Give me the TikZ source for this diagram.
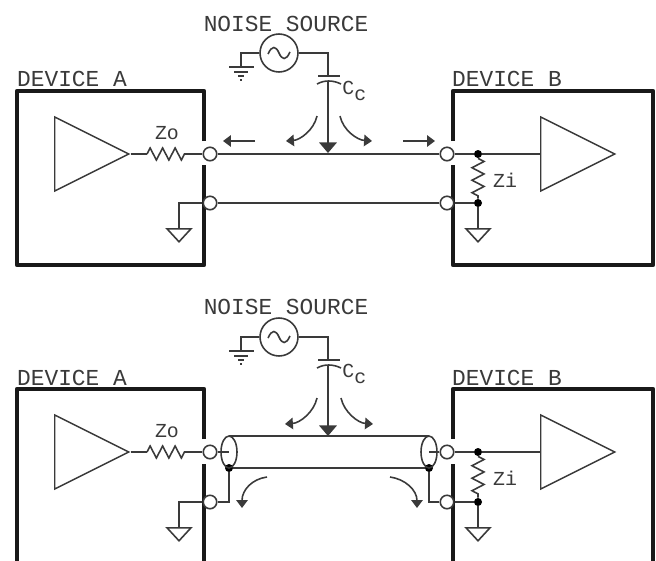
\documentclass[tikz,border=0pt]{standalone}
\usepackage{fontspec}
\setmonofont{Liberation Mono}
\usetikzlibrary{arrows.meta,decorations.pathmorphing,shapes,shapes.geometric,positioning,calc}
\definecolor{wirecol}{HTML}{3A3A3A}
\tikzset{
  wire/.style={draw=wirecol, line width=0.9pt},
  devbox/.style={draw=black!90, line width=2.4pt, line join=round},
  term/.style={circle, draw=wirecol, line width=0.9pt, fill=white, minimum size=0.27cm, inner sep=0pt},
  joint/.style={circle, fill=black, minimum size=0.16cm, inner sep=0pt},
  noise/.style={circle, draw=wirecol, line width=0.9pt, fill=white, minimum size=0.76cm, inner sep=0pt},
  amp/.style={isosceles triangle, isosceles triangle stretches, shape border rotate=0, draw=wirecol, line width=0.8pt, minimum width=1.48cm, minimum height=1.48cm, inner sep=0pt, anchor=lower side},
  gnd/.style={isosceles triangle, isosceles triangle stretches, shape border rotate=-90, draw=wirecol, line width=0.9pt, minimum width=0.48cm, minimum height=0.26cm, inner sep=0pt, anchor=lower side},
  resistor/.style={wire, decorate, decoration={zigzag, segment length=0.25cm, amplitude=0.12cm}},
  flow/.style={wire, -{Triangle[length=4.5pt,width=6.5pt]}},
  hit/.style={wire, -{Triangle[length=6pt,width=10pt]}},
  devlabel/.style={font=\ttfamily\fontsize{13}{13}\selectfont, text=wirecol, inner sep=0pt},
  partlabel/.style={font=\ttfamily\fontsize{11.3}{11.3}\selectfont, text=wirecol, inner sep=0pt}
}
\begin{document}
\begin{tikzpicture}[x=0.02cm, y=-0.02cm]
\useasboundingbox (0,0) rectangle (656,561);
\draw[devbox] (204,141) -- (204,91) -- (17,91) -- (17,265) -- (204,265) -- (204,165);
\draw[devbox] (453,141) -- (453,91) -- (653,91) -- (653,265) -- (453,265) -- (453,165);
\node[devlabel] (labelNoiseT) at (286,24) {NOISE SOURCE};
\node[devlabel] (labelAT) at (72,79) {DEVICE A};
\node[devlabel] (labelBT) at (507,79) {DEVICE B};
\node[amp] (ampAT) at (54,154) {};
\node[amp] (ampBT) at (540,154) {};
\node[term] (termAsT) at (210,154) {};
\node[term] (termAgT) at (210,203) {};
\node[term] (termBsT) at (447,154) {};
\node[term] (termBgT) at (447,203) {};
\node[joint] (jointSigT) at (478,154) {};
\node[joint] (jointGndT) at (478,203) {};
\node[gnd] (gndAT) at (179,228) {};
\node[gnd] (gndBT) at (478,228) {};
\node[noise] (noiseT) at (279,53) {};
\coordinate (hitT) at (328,153);
\coordinate (zoLT) at (147,154);
\coordinate (zoRT) at (185,154);
\coordinate (capAT) at (328,76);
\coordinate (capBT) at (328,81);
\coordinate (earthT) at (241,67);
\draw[wire] (ampAT.apex) -- (zoLT);
\draw[resistor] (zoLT) -- (zoRT);
\draw[wire] (zoRT) -- (termAsT);
\draw[wire] (termAsT) -- (termBsT);
\draw[wire] (termAgT) -- (termBgT);
\draw[wire] (termBsT) -- (jointSigT) -- (ampBT.lower side);
\draw[wire] (termBgT) -- (jointGndT) -- (gndBT.lower side);
\draw[resistor] (jointSigT) -- (jointGndT);
\draw[wire] (termAgT) -| (gndAT.lower side);
\draw[wire] (noiseT) -| (capAT);
\draw[wire] (noiseT) -| (earthT);
\draw[hit] (capBT) -- (hitT);
\draw[wire] (318,76) -- (340,76);
\draw[wire] (317,84) .. controls (324,80) and (333,80) .. (341,84);
\draw[wire] (229,67) -- (254,67);
\draw[wire] (234,72) -- (248,72);
\draw[wire] (238,76) -- (244,76);
\draw[wire] (240,80) -- (242,80);
\draw[wire] (268,54) .. controls (272,45) and (276,46) .. (279,53) .. controls (282,60) and (286,61) .. (290,52);
\draw[flow] (255,141) -- (223,141);
\draw[flow] (403,141) -- (435,141);
\draw[flow] (317,116) .. controls (314,130) and (300,140) .. (286,141);
\draw[flow] (340,116) .. controls (343,130) and (357,140) .. (372,141);
\node[partlabel] (labelZoT) at (167,133) {Zo};
\node[partlabel] (labelZiT) at (505,180) {Zi};
\node[partlabel, anchor=west] (labelCcT) at (342,91) {C\raisebox{-3.5pt}{c}};

\draw[devbox] (204,439) -- (204,389) -- (17,389) -- (17,561);
\draw[devbox] (204,561) -- (204,464);
\draw[devbox] (453,439) -- (453,389) -- (653,389) -- (653,561);
\draw[devbox] (453,561) -- (453,464);
\node[devlabel] (labelNoiseB) at (286,307) {NOISE SOURCE};
\node[devlabel] (labelAB) at (72,378) {DEVICE A};
\node[devlabel] (labelBB) at (507,378) {DEVICE B};
\node[amp] (ampAB) at (54,452) {};
\node[amp] (ampBB) at (540,452) {};
\node[term] (termAsB) at (210,452) {};
\node[term] (termAgB) at (210,502) {};
\node[term] (termBsB) at (447,452) {};
\node[term] (termBgB) at (447,502) {};
\node[joint] (jointSigB) at (478,452) {};
\node[joint] (jointGndB) at (478,502) {};
\node[gnd] (gndAB) at (179,527) {};
\node[gnd] (gndBB) at (478,527) {};
\node[noise] (noiseB) at (279,337) {};
\coordinate (hitB) at (328,436);
\coordinate (zoLB) at (147,452);
\coordinate (zoRB) at (185,452);
\coordinate (capAB) at (328,360);
\coordinate (capBB) at (328,365);
\coordinate (earthB) at (241,351);
\coordinate (coreAB) at (229,452);
\coordinate (coreBB) at (429,452);
\coordinate (shieldTAB) at (229,436);
\coordinate (shieldTBB) at (429,436);
\draw[wire] (ampAB.apex) -- (zoLB);
\draw[resistor] (zoLB) -- (zoRB);
\draw[wire] (zoRB) -- (termAsB);
\draw[wire] (termAsB) -- (coreAB);
\draw[wire] (termBsB) -- (coreBB);
\draw[wire] (shieldTAB) -- (shieldTBB);
\node[joint] (shieldAB) at (229,468) {};
\node[joint] (shieldBB) at (429,468) {};
\draw[wire] (shieldAB) -- (shieldBB);
\draw[wire] (229,452) ellipse (8 and 16);
\draw[wire] (429,452) ellipse (8 and 16);
\draw[wire] (shieldAB) |- (termAgB);
\draw[wire] (shieldBB) |- (termBgB);
\draw[wire] (termBsB) -- (jointSigB) -- (ampBB.lower side);
\draw[wire] (termBgB) -- (jointGndB) -- (gndBB.lower side);
\draw[resistor] (jointSigB) -- (jointGndB);
\draw[wire] (termAgB) -| (gndAB.lower side);
\draw[wire] (noiseB) -| (capAB);
\draw[wire] (noiseB) -| (earthB);
\draw[hit] (capBB) -- (hitB);
\draw[wire] (318,360) -- (340,360);
\draw[wire] (317,368) .. controls (324,364) and (333,364) .. (341,368);
\draw[wire] (229,351) -- (254,351);
\draw[wire] (234,356) -- (248,356);
\draw[wire] (238,360) -- (244,360);
\draw[wire] (240,364) -- (242,364);
\draw[wire] (268,338) .. controls (272,329) and (276,330) .. (279,337) .. controls (282,344) and (286,345) .. (290,336);
\draw[flow] (317,398) .. controls (314,412) and (300,423) .. (285,424);
\draw[flow] (341,398) .. controls (344,412) and (358,423) .. (373,424);
\draw[flow] (267,477) .. controls (252,479) and (242,490) .. (242,508);
\draw[flow] (390,477) .. controls (405,479) and (417,490) .. (417,508);
\node[partlabel] (labelZoB) at (167,431) {Zo};
\node[partlabel] (labelZiB) at (505,478) {Zi};
\node[partlabel, anchor=west] (labelCcB) at (342,374) {C\raisebox{-3.5pt}{c}};
\end{tikzpicture}
\end{document}
